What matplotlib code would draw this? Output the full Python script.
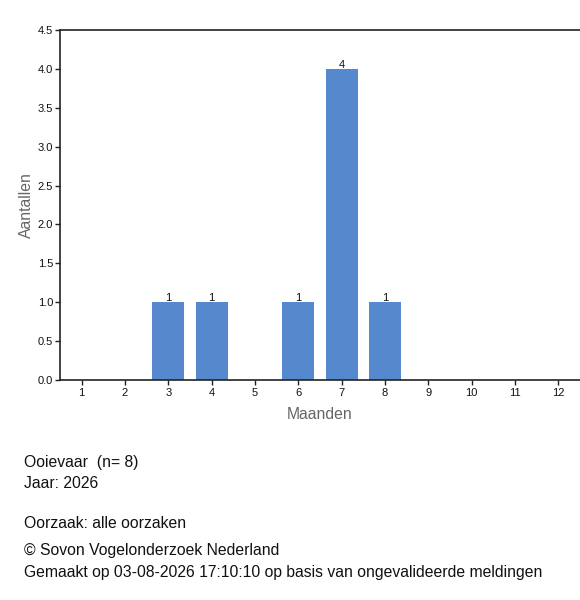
import matplotlib
matplotlib.use("Agg")
import matplotlib.pyplot as plt

months = [1, 2, 3, 4, 5, 6, 7, 8, 9, 10, 11, 12]
counts = [0, 0, 1, 1, 0, 1, 4, 1, 0, 0, 0, 0]
yticks = [0.0, 0.5, 1.0, 1.5, 2.0, 2.5, 3.0, 3.5, 4.0, 4.5]

plt.rcParams['font.family'] = ['Liberation Sans', 'DejaVu Sans']

fig = plt.figure(figsize=(5.8, 6.0), dpi=100)
ax = fig.add_axes([60/580, 1-380/600, 520/580, 350/600])

bar_color = '#5588cc'
ax.bar(months, counts, width=0.74, color=bar_color)
for m, c in zip(months, counts):
    if c > 0:
        ax.text(m, c - 0.01, str(c), ha='center', va='bottom', fontsize=8, color='#111111')

ax.set_xlim(0.5, 12.5)
ax.set_ylim(0, 4.5)
ax.set_xticks(months)
ax.set_xticklabels([str(m) for m in months])
ax.set_yticks(yticks)
ax.set_yticklabels([f"{v:.1f}" for v in yticks])
ax.tick_params(axis='both', labelsize=8, length=3.5, width=1, color='#222222', labelcolor='#111111', pad=1.5)
ax.tick_params(axis='x', pad=2.5)

for s in ['left', 'bottom', 'top']:
    ax.spines[s].set_color('#222222')
    ax.spines[s].set_linewidth(1.2)
ax.spines['right'].set_visible(False)

ax.set_xlabel('Maanden', fontsize=11.3, color='#666666', labelpad=6)
ax.set_ylabel('Aantallen', fontsize=11.3, color='#666666', labelpad=3)

lines = [
    (462, "Ooievaar  (n= 8)"),
    (483, "Jaar: 2026"),
    (523, "Oorzaak: alle oorzaken"),
    (551, "\u00a9 Sovon Vogelonderzoek Nederland"),
    (572, "Gemaakt op 03-08-2026 17:10:10 op basis van ongevalideerde meldingen"),
]
for y, t in lines:
    fig.text(24/580, 1 - y/600, t, fontsize=11.3, color='#111111', ha='left', va='center')

fig.savefig('out.png', dpi=100)
